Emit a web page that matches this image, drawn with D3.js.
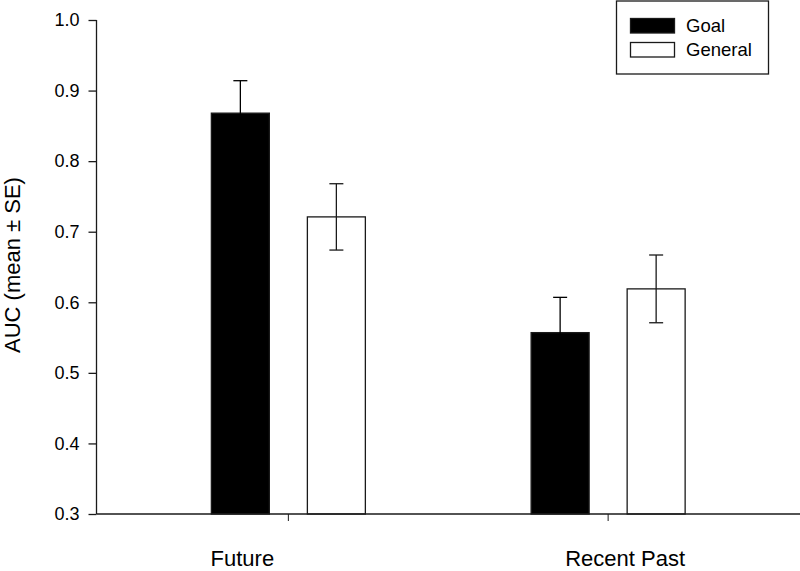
<!DOCTYPE html>
<html>
<head>
<meta charset="utf-8">
<script src="https://cdn.jsdelivr.net/npm/d3@7"></script>
<style>
  html, body { margin: 0; padding: 0; background: #fff; }
  svg { display: block; font-family: "Liberation Sans", Arial, sans-serif; }
</style>
</head>
<body>
<svg id="chart" width="800" height="571"></svg>
<script>
// ---- data ----
const categories = ["Future", "Recent Past"];
const seriesNames = ["Goal", "General"];
const goalMeans = [0.868, 0.557];
const goalSE = [0.046, 0.050];
const generalMeans = [0.721, 0.619];
const generalSE = [0.047, 0.048];
const yTicks = [0.3, 0.4, 0.5, 0.6, 0.7, 0.8, 0.9, 1.0];
const yLabel = "AUC (mean \u00B1 SE)";

(function () {
// ---- layout ----
const svg = d3.select("#chart");
const mLeft = 96.5, mRight = 800, mTop = 20, mBottom = 514;
const ink = "#1a1a1a";
const fills = { Goal: "#000000", General: "#ffffff" };
const whisker = { Goal: "#000000", General: "#1a1a1a" };
const catLabelOffset = { "Future": -46, "Recent Past": 17 };

const rows = categories.map((c, i) => ({
  cat: c,
  vals: [
    { s: "Goal", m: goalMeans[i], se: goalSE[i] },
    { s: "General", m: generalMeans[i], se: generalSE[i] }
  ]
}));

const y = d3.scaleLinear().domain([0.3, 1.0]).range([mBottom, mTop]);
const x = d3.scaleBand().domain(categories).range([mLeft, mRight])
  .paddingInner(0).paddingOuter(0.1);
const xs = d3.scaleBand().domain(seriesNames).range([-77, 77]).paddingInner(0.396);

// bars
const g = svg.append("g");
rows.forEach(r => {
  const cx = x(r.cat) + x.bandwidth() / 2;
  r.vals.forEach(v => {
    const x0 = cx + xs(v.s);
    const w = xs.bandwidth();
    const xc = x0 + w / 2;
    g.append("rect")
      .attr("x", x0).attr("y", y(v.m))
      .attr("width", w).attr("height", y(0.3) - y(v.m))
      .attr("fill", fills[v.s])
      .attr("stroke", ink).attr("stroke-width", 1.3);
    const cap = 7;
    const col = whisker[v.s];
    g.append("line").attr("x1", xc).attr("x2", xc)
      .attr("y1", y(v.m + v.se)).attr("y2", y(v.m - v.se))
      .attr("stroke", col).attr("stroke-width", 1.3);
    [v.m + v.se, v.m - v.se].forEach(val => {
      g.append("line").attr("x1", xc - cap).attr("x2", xc + cap)
        .attr("y1", y(val)).attr("y2", y(val))
        .attr("stroke", col).attr("stroke-width", 1.3);
    });
  });
});

// y axis
const yAxis = d3.axisLeft(y).tickValues(yTicks).tickFormat(d3.format(".1f"))
  .tickSize(8).tickPadding(9);
const ya = svg.append("g").attr("transform", `translate(${mLeft},0)`).call(yAxis);
ya.select(".domain").attr("d", `M0,${mTop}V${mBottom}`).attr("stroke", ink).attr("stroke-width", 1.3);
ya.selectAll(".tick line").attr("stroke", ink).attr("stroke-width", 1.3);
ya.selectAll(".tick text").attr("font-size", 18).attr("fill", "#000")
  .attr("font-family", "Liberation Sans, Arial, sans-serif");

// x axis
const xa = svg.append("g");
xa.append("line").attr("x1", mLeft).attr("x2", mRight).attr("y1", mBottom).attr("y2", mBottom)
  .attr("stroke", ink).attr("stroke-width", 1.3);
categories.forEach(c => {
  const cx = x(c) + x.bandwidth() / 2;
  xa.append("line").attr("x1", cx).attr("x2", cx).attr("y1", mBottom).attr("y2", mBottom + 7)
    .attr("stroke", ink).attr("stroke-width", 1);
  xa.append("text").attr("x", cx + catLabelOffset[c]).attr("y", 566)
    .attr("text-anchor", "middle").attr("font-size", 22).attr("fill", "#000")
    .text(c);
});

// y label
svg.append("text")
  .attr("transform", `translate(20,265) rotate(-90)`)
  .attr("text-anchor", "middle").attr("font-size", 22).attr("fill", "#000")
  .text(yLabel);

// legend
const lg = svg.append("g");
lg.append("rect").attr("x", 616.5).attr("y", 1).attr("width", 152).attr("height", 73)
  .attr("fill", "#fff").attr("stroke", ink).attr("stroke-width", 1.3);
seriesNames.forEach((s, i) => {
  const yy = 18.5 + i * 24;
  lg.append("rect").attr("x", 630.5).attr("y", yy).attr("width", 44).attr("height", 14.5)
    .attr("fill", fills[s]).attr("stroke", ink).attr("stroke-width", 1.3);
  lg.append("text").attr("x", 686).attr("y", yy + 13.5)
    .attr("font-size", 18.5).attr("fill", "#000").text(s);
});
})();
</script>
</body>
</html>
